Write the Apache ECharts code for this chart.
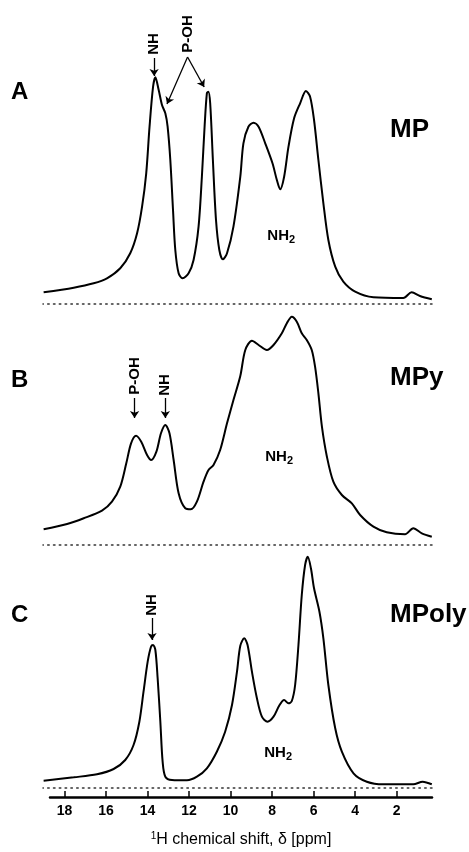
<!DOCTYPE html>
<html>
<head>
<meta charset="utf-8">
<script src="https://cdn.jsdelivr.net/npm/echarts@6/dist/echarts.min.js"></script>
<style>
html, body { margin: 0; padding: 0; background: #fff; }
#main { width: 469px; height: 852px; }
</style>
</head>
<body>
<div id="main"></div>
<script>
// 化学位移 (ppm) 与强度 (a.u.)
var ppmA = [19.0, 17.55, 16.59, 15.95, 15.31, 14.83, 14.50, 14.26, 14.06, 13.90, 13.73, 13.62, 13.46, 13.30, 13.14, 13.03,
    12.90, 12.77, 12.66, 12.50, 12.31, 12.02, 11.78, 11.54, 11.38, 11.25, 11.14, 11.07, 10.98, 10.85, 10.70, 10.54,
    10.37, 10.17, 9.86, 9.53, 9.38, 9.14, 8.89, 8.65, 8.33, 7.98, 7.77, 7.61, 7.42, 7.21, 6.94, 6.65,
    6.37, 6.17, 5.98, 5.77, 5.53, 5.29, 4.96, 4.57, 4.00, 3.12, 1.68, 1.28, 0.88, 0.31]
var intA = [11.7, 16.3, 20.7, 25.7, 35.7, 50.7, 70.7, 97.3, 130.7, 177.3, 217.3, 226.7, 214, 199, 190.7, 177.3,
    144, 94, 54, 30.7, 25.7, 30.7, 44, 77.3, 127.3, 177.3, 210.7, 212.3, 200.7, 144, 84, 54,
    44.7, 50.7, 77.3, 127.3, 160.7, 177.3, 181.3, 177.3, 160.7, 140.7, 124, 114.7, 127.3, 157.3, 185.7, 200.7,
    213, 207.3, 184, 144, 100.7, 64, 37.3, 22.3, 12.3, 6.7, 6, 11.7, 8, 4.7]

var ppmB = [19.0, 17.87, 17.07, 16.19, 15.71, 15.31, 15.02, 14.79, 14.55, 14.30, 14.02, 13.82, 13.57, 13.35, 13.14, 12.94,
    12.74, 12.50, 12.18, 11.91, 11.62, 11.30, 11.06, 10.82, 10.50, 10.17, 9.86, 9.53, 9.29, 8.97, 8.65, 8.25,
    7.93, 7.53, 7.29, 7.05, 6.81, 6.57, 6.33, 6.09, 5.93, 5.77, 5.60, 5.36, 5.05, 4.64, 4.16, 3.76,
    3.12, 2.48, 1.60, 1.20, 0.79, 0.31]
var intB = [15.7, 21, 26.7, 34.3, 43.3, 58.3, 81.7, 101.7, 109.3, 103.3, 90, 85, 93.3, 111.7, 120, 111.7,
    85, 51.7, 36.7, 35.7, 43.3, 63.3, 75, 80, 95, 121.7, 145, 169, 195, 204.3, 200, 195,
    200, 211.7, 221.7, 228.3, 223.3, 211.7, 205, 195, 178.3, 151.7, 118.3, 88.3, 63.3, 50, 41.7, 30,
    18.3, 12.7, 10.7, 16.7, 11.7, 8.3]

var ppmC = [19.0, 17.55, 16.43, 15.63, 15.07, 14.67, 14.39, 14.19, 13.99, 13.83, 13.73, 13.62, 13.51, 13.38, 13.27, 13.14,
    12.82, 12.10, 11.62, 11.14, 10.66, 10.26, 9.93, 9.69, 9.53, 9.34, 9.18, 8.97, 8.73, 8.49, 8.22, 7.93,
    7.64, 7.42, 7.21, 7.05, 6.89, 6.73, 6.57, 6.41, 6.28, 6.13, 5.98, 5.72, 5.53, 5.29, 4.96, 4.64,
    4.08, 3.44, 2.64, 1.20, 0.75, 0.31]
var intC = [7.3, 10.7, 13.7, 19, 28, 43, 66.3, 96.3, 126.3, 141.3, 143, 138, 109.7, 66.3, 26.3, 11.3,
    8, 7.7, 11.3, 19.7, 36.3, 56.3, 83, 116.3, 142.2, 149.7, 143, 116.3, 89.7, 71.3, 66.3, 71.3,
    83, 88, 84.7, 87, 103, 143, 193, 223, 231.3, 219.7, 199.7, 176.3, 149.7, 103, 59.7, 36.3,
    14.7, 6.3, 3.7, 3.7, 6.3, 3.7]

var tickPpm = [18, 16, 14, 12, 10, 8, 6, 4, 2]
var panelLetters = ['A', 'B', 'C']
var panelNames = ['MP', 'MPy', 'MPoly']

// 注释文字 [文字, ppm, 强度]
var notesA = [['NH', 13.68, 260], ['P-OH', 12.07, 270]]
var notesB = [['P-OH', 14.62, 169], ['NH', 13.14, 160]]
var notesC = [['NH', 13.78, 183]]
// 箭头 [起点ppm, 起点强度, 终点ppm, 终点强度]
var arrowsA = [[13.68, 246, 13.68, 228], [12.07, 247, 13.06, 200], [12.07, 247, 11.27, 217]]
var arrowsB = [[14.62, 147, 14.62, 127], [13.14, 147, 13.14, 127]]
var arrowsC = [[13.78, 170, 13.78, 148]]
// NH2 标签位置
var nh2At = [[7.56, 68], [7.66, 88], [7.71, 35]]

var FONT = '"Liberation Sans", Arial, Helvetica, sans-serif'
var baseY = [304, 545, 788]  // 每个面板基线的像素位置
var panelH = 280

var myChart = echarts.init(document.getElementById('main'), null, {renderer: 'canvas'})

function spectrum(i, ppm, inten, notes, arrows) {
    var marks = notes.map(function (n) {
        return {coord: [n[1], n[2]], label: {formatter: n[0], rotate: 90}}
    })
    marks.push({
        coord: nh2At[i],
        label: {
            formatter: '{n|NH}{s|2}',
            rich: {
                n: {fontSize: 15, fontWeight: 'bold', fontFamily: FONT, color: '#000'},
                s: {fontSize: 11, fontWeight: 'bold', fontFamily: FONT, color: '#000', padding: [8, 0, 0, 0]}
            }
        }
    })
    return {
        type: 'line',
        xAxisIndex: i,
        yAxisIndex: i,
        data: ppm.map(function (p, k) { return [p, inten[k]] }),
        smooth: 0.3,
        symbol: 'none',
        clip: false,
        lineStyle: {color: '#000', width: 2},
        markLine: {
            silent: true,
            symbol: ['none', 'arrow'],
            symbolSize: 7,
            label: {show: false},
            lineStyle: {color: '#000', width: 1.3, type: 'solid'},
            data: arrows.map(function (a) {
                return [{coord: [a[0], a[1]]}, {coord: [a[2], a[3]]}]
            })
        },
        markPoint: {
            silent: true,
            symbol: 'circle',
            symbolSize: 0,
            label: {show: true, position: 'inside', color: '#000', fontFamily: FONT, fontWeight: 'bold', fontSize: 15},
            data: marks
        }
    }
}

var grids = [], xAxes = [], yAxes = []
for (var i = 0; i < 3; i++) {
    grids.push({left: 43, right: 37, top: baseY[i] - panelH, height: panelH, outerBoundsMode: 'none'})
    xAxes.push({
        type: 'value', gridIndex: i, min: 0.3, max: 19.03, inverse: true,
        axisLine: {show: true, onZero: false, lineStyle: {color: '#333', width: 1.5, type: [1.5, 4.3]}},
        axisTick: {show: false}, axisLabel: {show: false}, splitLine: {show: false}
    })
    yAxes.push({type: 'value', gridIndex: i, min: 0, max: panelH, show: false})
}
// 底部刻度轴
grids.push({left: 50, right: 37, top: 790, height: 7, outerBoundsMode: 'none'})
xAxes.push({
    type: 'value', gridIndex: 3, min: 0.3, max: 18.7, inverse: true,
    axisLine: {show: true, onZero: false, lineStyle: {color: '#000', width: 2.5}},
    axisTick: {show: true, inside: true, length: 6, customValues: tickPpm, lineStyle: {color: '#000', width: 1.5}},
    axisLabel: {show: true, customValues: tickPpm, margin: 7, color: '#000', fontSize: 14, fontWeight: 'bold', fontFamily: FONT},
    splitLine: {show: false},
    name: '{sup|1}H chemical shift, δ [ppm]',
    nameLocation: 'middle',
    nameGap: 34,
    nameTextStyle: {
        color: '#000', fontSize: 16, fontFamily: FONT,
        rich: {sup: {fontSize: 10, fontFamily: FONT, color: '#000', padding: [0, 0, 8, 0]}}
    }
})
yAxes.push({type: 'value', gridIndex: 3, min: 0, max: 1, show: false})

var letterY = [92, 380, 615]
var nameY = [129.5, 378, 615]
var graphics = []
for (var j = 0; j < 3; j++) {
    graphics.push({type: 'text', x: 11, y: letterY[j], style: {text: panelLetters[j], fontSize: 24, fontWeight: 'bold', fontFamily: FONT, fill: '#000', verticalAlign: 'middle'}})
    graphics.push({type: 'text', x: 390, y: nameY[j], style: {text: panelNames[j], fontSize: 26, fontWeight: 'bold', fontFamily: FONT, fill: '#000', verticalAlign: 'middle'}})
}

var option = {
    animation: false,
    backgroundColor: '#fff',
    grid: grids,
    xAxis: xAxes,
    yAxis: yAxes,
    graphic: graphics,
    series: [
        spectrum(0, ppmA, intA, notesA, arrowsA),
        spectrum(1, ppmB, intB, notesB, arrowsB),
        spectrum(2, ppmC, intC, notesC, arrowsC)
    ]
}
myChart.setOption(option)
</script>
</body>
</html>
